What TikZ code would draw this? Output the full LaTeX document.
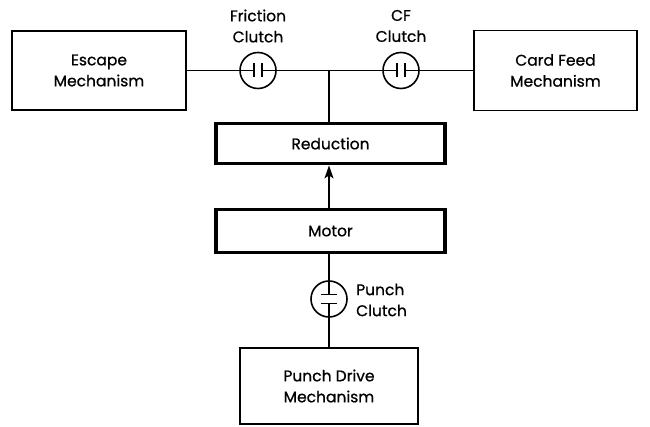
\documentclass[tikz,border=0pt]{standalone}
\usepackage{fontspec}
\setmainfont{Poppins}[FakeBold=0.7]
\usetikzlibrary{arrows.meta}
\begin{document}
\begin{tikzpicture}[x=1pt,y=-1pt,
  thinbox/.style={draw,line width=1.6pt,align=center,inner sep=0pt,font=\fontsize{15.5}{21}\selectfont},
  thickbox/.style={draw,line width=3.8pt,align=center,inner sep=0pt,font=\fontsize{15.5}{21}\selectfont},
  clutch/.style={draw,circle,line width=1.6pt,minimum size=36pt,inner sep=0pt},
  lbl/.style={align=center,inner sep=0pt,font=\fontsize{15.5}{21}\selectfont},
  conn/.style={line width=1.6pt}]
\useasboundingbox (0,0) rectangle (650,427);
\node[thinbox,minimum width=174pt,minimum height=79pt] (esc) at (99,70.5) {Escape\\Mechanism};
\node[thinbox,minimum width=163pt,minimum height=80pt] (card) at (555.5,70.5) {Card Feed\\Mechanism};
\node[thickbox,minimum width=229pt,minimum height=40pt] (red) at (330.5,143.5) {Reduction};
\node[thickbox,minimum width=229pt,minimum height=43pt] (mot) at (330.5,231) {Motor};
\node[thinbox,minimum width=178pt,minimum height=76pt] (pd) at (329,386) {Punch Drive\\Mechanism};
\node[clutch] (fc) at (258,70.5) {};
\node[clutch] (cf) at (401,70.5) {};
\node[clutch] (pc) at (329,299) {};
\node[lbl] (fcl) at (258,26) {Friction\\Clutch};
\node[lbl] (cfl) at (401,26) {CF\\Clutch};
\node[lbl,align=left,anchor=west] (pcl) at (356,300) {Punch\\Clutch};
\coordinate (j) at (329,70.5);
% horizontal shaft
\draw[conn] (esc.east) -- ([xshift=-4pt]fc.center);
\draw[conn] ([xshift=4pt]fc.center) -- ([xshift=-4pt]cf.center);
\draw[conn] ([xshift=4pt]cf.center) -- (card.west);
\draw[conn] ([xshift=-4pt,yshift=-7pt]fc.center) -- ([xshift=-4pt,yshift=7pt]fc.center);
\draw[conn] ([xshift=4pt,yshift=-7pt]fc.center) -- ([xshift=4pt,yshift=7pt]fc.center);
\draw[conn] ([xshift=-4pt,yshift=-7pt]cf.center) -- ([xshift=-4pt,yshift=7pt]cf.center);
\draw[conn] ([xshift=4pt,yshift=-7pt]cf.center) -- ([xshift=4pt,yshift=7pt]cf.center);
\draw[conn] (j) -- (red.north -| j);
\draw[conn,-{Stealth[length=13pt,width=9pt,inset=3pt]}] (mot.north -| j) -- (red.south -| j);
\draw[conn] (mot.south -| pc) -- ([yshift=4.5pt]pc.center);
\draw[conn] ([yshift=-4.5pt]pc.center) -- (pd.north -| pc);
\draw[conn] ([xshift=-8pt,yshift=4.5pt]pc.center) -- ([xshift=8pt,yshift=4.5pt]pc.center);
\draw[conn] ([xshift=-8pt,yshift=-4.5pt]pc.center) -- ([xshift=8pt,yshift=-4.5pt]pc.center);
\end{tikzpicture}
\end{document}
